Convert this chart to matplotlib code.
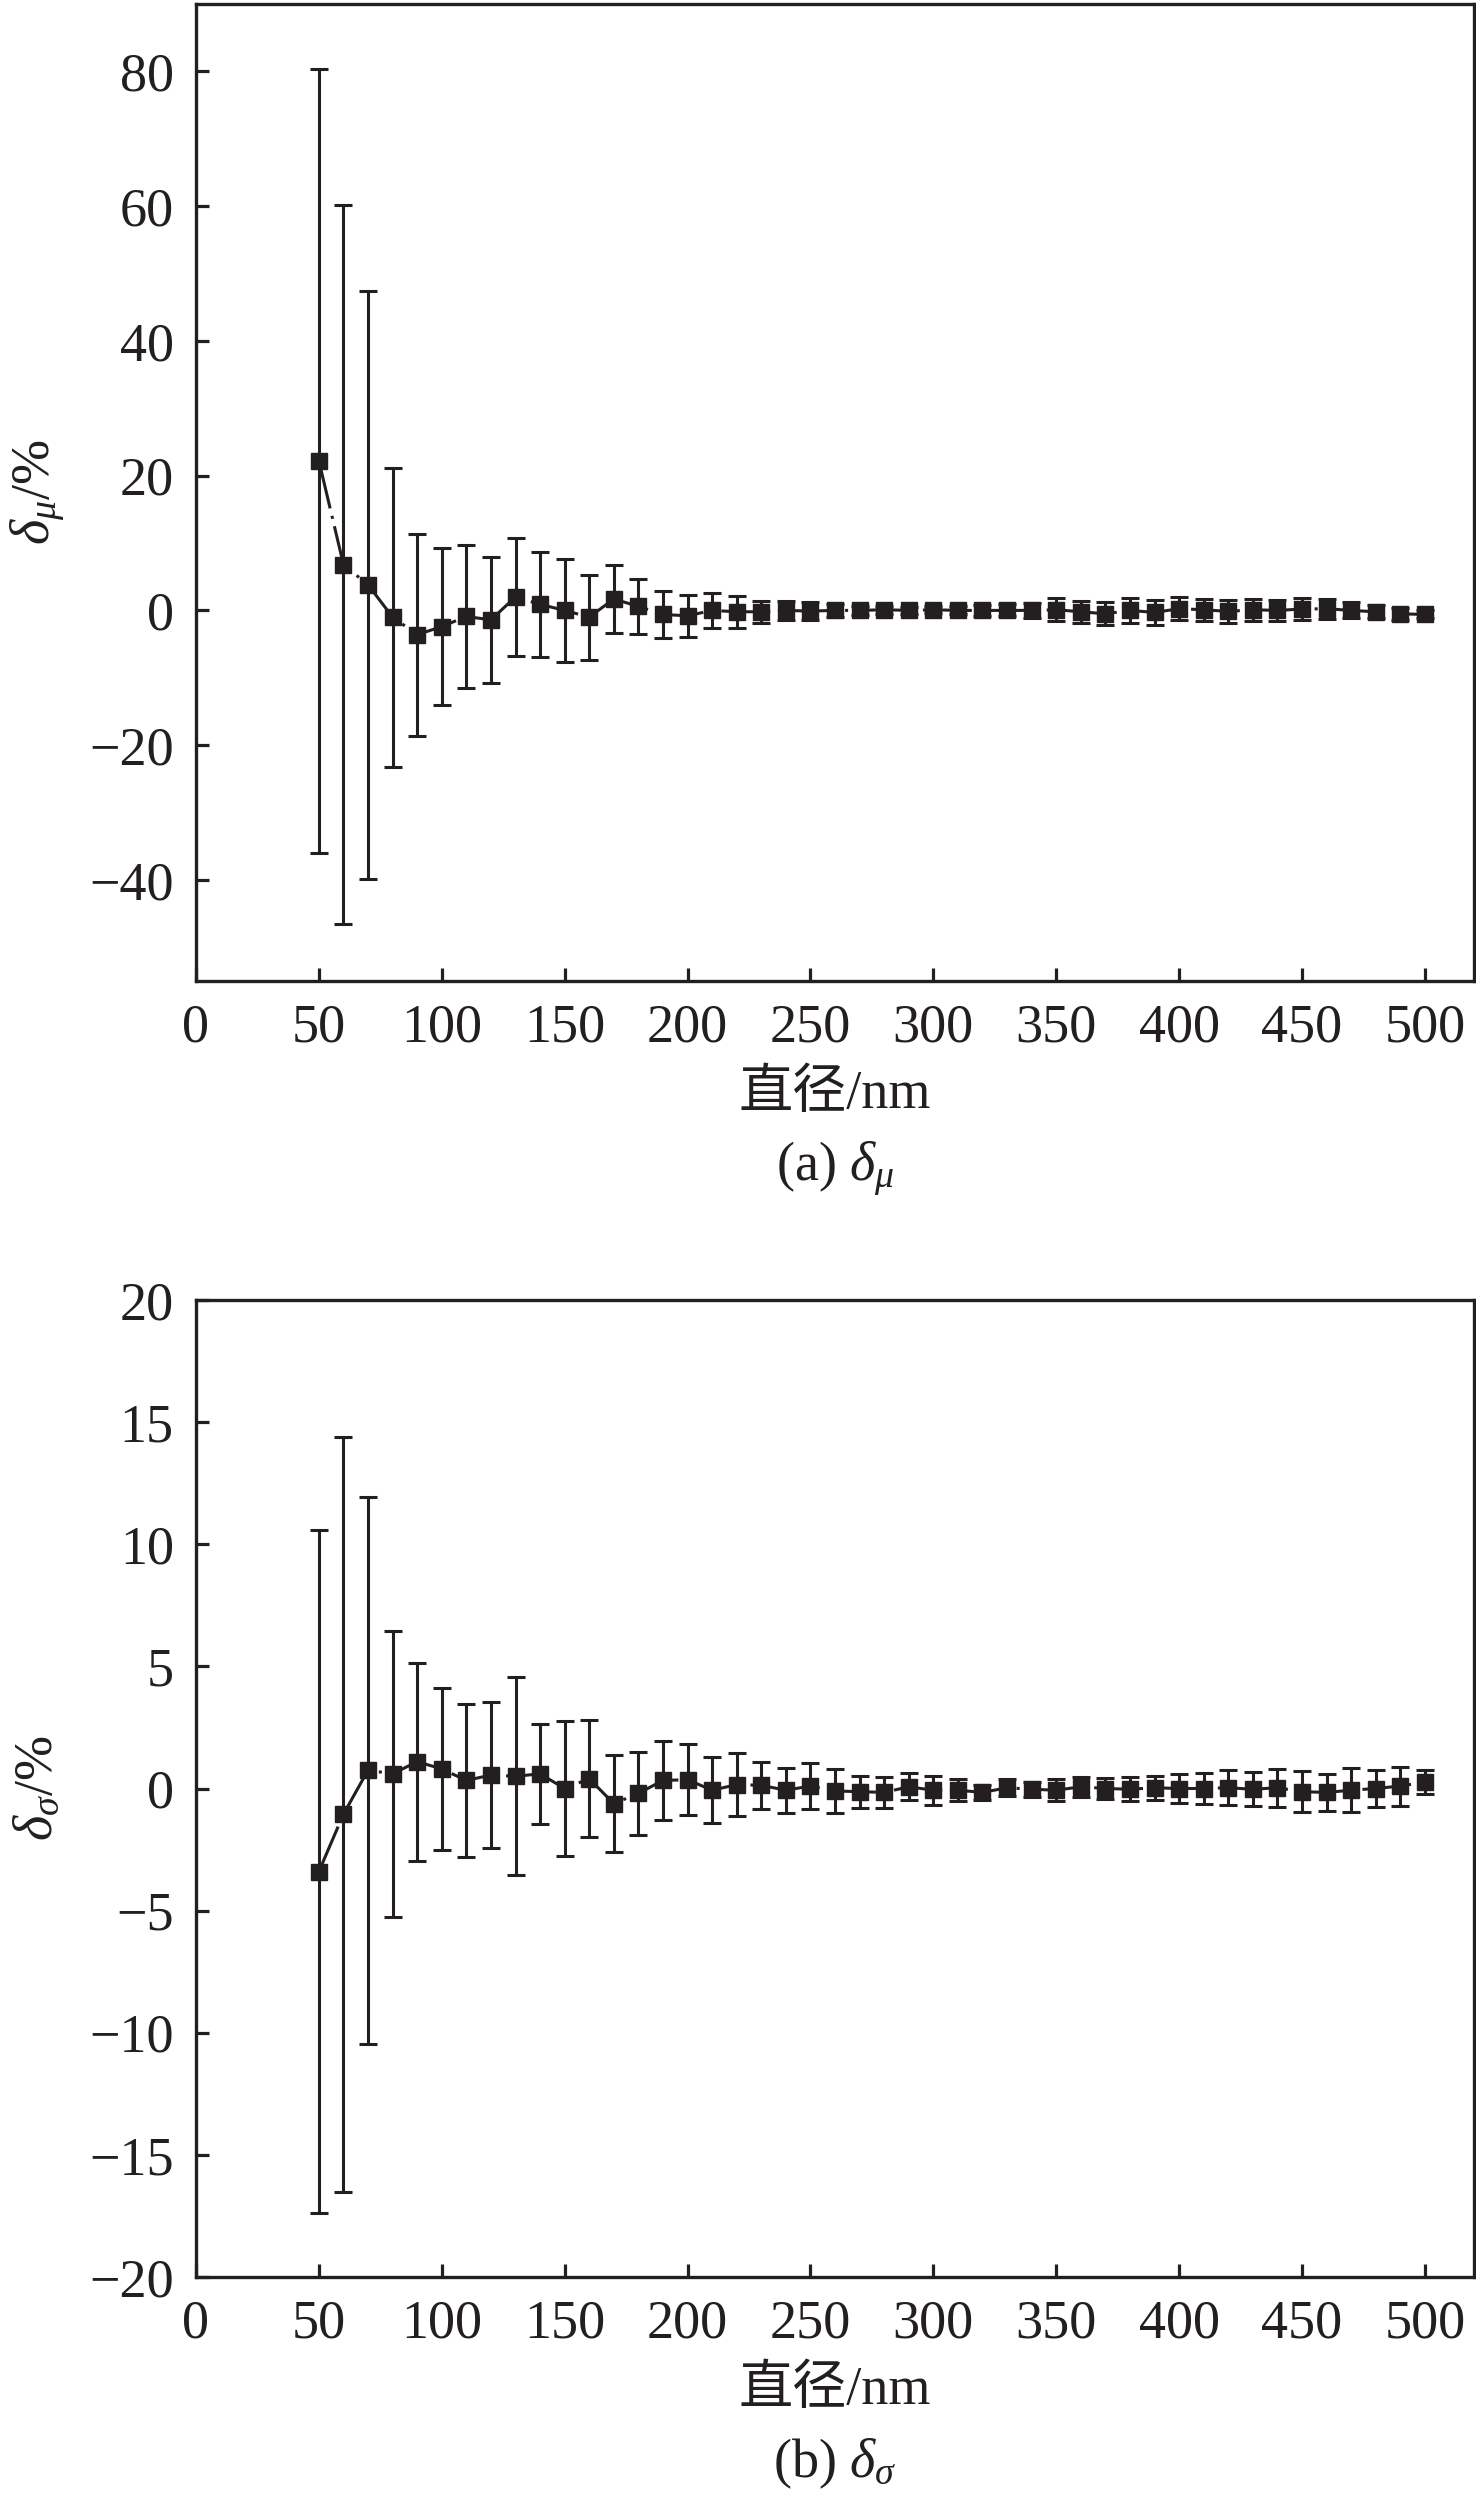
import matplotlib
matplotlib.use('Agg')
import matplotlib.pyplot as plt
from matplotlib.ticker import MultipleLocator

plt.rcParams['font.family'] = ['Liberation Serif', 'Noto Sans CJK SC']
plt.rcParams['mathtext.fontset'] = 'custom'
plt.rcParams['mathtext.rm'] = 'Liberation Serif'
plt.rcParams['mathtext.it'] = 'Liberation Serif:italic'

# diameter (nm)
diam = list(range(50, 501, 10))

# (a) delta_mu, %
mu_val = [22.2, 6.8, 3.8, -1.0, -3.6, -2.4, -0.9, -1.4, 2.0, 0.9,
          0.0, -1.0, 1.7, 0.6, -0.6, -0.8, 0.0, -0.2, -0.2, 0.0,
          -0.1, 0.0, 0.0, 0.1, 0.0, 0.1, 0.0, 0.0, 0.0, 0.0,
          0.1, -0.2, -0.5, 0.0, -0.3, 0.25, 0.1, -0.15, 0.1, 0.0,
          0.2, 0.25, 0.0, -0.2, -0.5, -0.6]
mu_err = [58.2, 53.4, 43.6, 22.2, 15.0, 11.7, 10.6, 9.4, 8.7, 7.8,
          7.6, 6.3, 5.1, 4.1, 3.5, 3.1, 2.6, 2.4, 1.6, 1.4,
          1.3, 1.0, 0.7, 0.6, 0.5, 0.5, 0.6, 0.8, 0.9, 1.1,
          1.7, 1.6, 1.7, 1.8, 1.8, 1.7, 1.6, 1.7, 1.6, 1.6,
          1.6, 1.5, 1.2, 1.0, 0.9, 0.6]

# (b) delta_sigma, %
sg_val = [-3.4, -1.05, 0.75, 0.6, 1.1, 0.8, 0.33, 0.55, 0.5, 0.6,
          0.0, 0.4, -0.62, -0.2, 0.33, 0.36, -0.07, 0.16, 0.13, -0.07,
          0.1, -0.1, -0.13, -0.16, 0.07, -0.07, -0.07, -0.16, 0.03, -0.03,
          -0.07, 0.07, 0.0, -0.03, 0.03, 0.0, 0.0, 0.03, -0.03, 0.03,
          -0.13, -0.16, -0.07, 0.0, 0.1, 0.26]
sg_err = [14.0, 15.45, 11.2, 5.85, 4.05, 3.3, 3.15, 3.0, 4.05, 2.05,
          2.75, 2.4, 2.0, 1.7, 1.6, 1.46, 1.36, 1.3, 0.96, 0.92,
          0.95, 0.91, 0.65, 0.65, 0.56, 0.6, 0.45, 0.3, 0.35, 0.3,
          0.45, 0.4, 0.45, 0.5, 0.5, 0.6, 0.62, 0.72, 0.7, 0.77,
          0.85, 0.75, 0.9, 0.75, 0.8, 0.5]

ink = '#231f20'
W, H = 1476, 2506
fig = plt.figure(figsize=(W / 100, H / 100), dpi=100)

# values, errors, ylim, ytick step, ylabel, caption, top of axes (px)
panels = [
    (mu_val, mu_err, (-55, 90), 20, r'$\delta_{\mu}$/%', r'(a) $\delta_{\mu}$', 4),
    (sg_val, sg_err, (-20, 20), 5, r'$\delta_{\sigma}$/%', r'(b) $\delta_{\sigma}$', 1300),
]

ax_h = 977
for val, err, ylim, ystep, ylab, cap, top_px in panels:
    ax = fig.add_axes([196 / W, 1 - (top_px + ax_h) / H, 1278 / W, ax_h / H])
    ax.errorbar(diam, val, yerr=err, color=ink, lw=2.2,
                ls=(0, (16, 2.5, 1.0, 2.5)),
                marker='s', ms=12, mfc=ink, mec=ink,
                elinewidth=2.2, capsize=6.5, capthick=2.2)
    ax.set_xlim(0, 520)
    ax.set_ylim(*ylim)
    ax.xaxis.set_major_locator(MultipleLocator(50))
    ax.yaxis.set_major_locator(MultipleLocator(ystep))
    ax.tick_params(direction='in', length=9.5, width=2.3, labelsize=39,
                   pad=16, color=ink, labelcolor=ink)
    for s in ax.spines.values():
        s.set_linewidth(2.4)
        s.set_color(ink)

    ax.set_xlabel('直径/nm', fontsize=39, color=ink, va='baseline')
    ax.xaxis.set_label_coords(0.5, -(1108 - 981) / ax_h)
    ax.set_ylabel(ylab, fontsize=39, color=ink, va='center')
    ax.yaxis.set_label_coords(-(196 - 38) / 1278, 0.5)

    fig.text(835 / W, 1 - (top_px + 1177) / H, cap, fontsize=39, color=ink,
             ha='center', va='baseline')

fig.savefig('out.png', dpi=100)
